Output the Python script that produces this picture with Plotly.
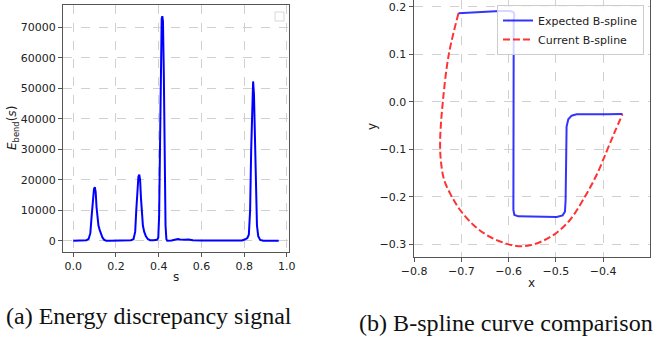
import plotly.graph_objects as go

# ---- data: left panel (energy discrepancy signal)
s_vals = [0.0, 0.05, 0.062, 0.072, 0.08, 0.086, 0.092, 0.097, 0.101, 0.105, 0.109, 0.113,
          0.118, 0.124, 0.13, 0.137, 0.145, 0.155, 0.17, 0.2, 0.22, 0.24, 0.27, 0.282, 0.29,
          0.295, 0.3, 0.305, 0.309, 0.313, 0.317, 0.321, 0.326, 0.332, 0.34, 0.35, 0.36,
          0.375, 0.392, 0.398, 0.402, 0.406, 0.41, 0.414, 0.417, 0.42, 0.424, 0.428, 0.432,
          0.436, 0.44, 0.46, 0.48, 0.49, 0.5, 0.52, 0.54, 0.56, 0.6, 0.7, 0.79, 0.805, 0.815,
          0.822, 0.828, 0.833, 0.838, 0.842, 0.846, 0.85, 0.855, 0.86, 0.866, 0.875, 0.89, 0.962]
e_vals = [0, 0, 200, 600, 2500, 8000, 14000, 17000, 17600, 16000, 11000, 7000,
          5000, 3500, 2200, 1000, 300, 0, 0, 0, 200, 100, 200, 500, 3000,
          10000, 17000, 21000, 21700, 20000, 14000, 8000, 5000, 3000, 1500, 500, 200,
          200, 300, 1000, 8000, 30000, 60000, 73000, 73700, 72000, 55000, 25000, 5000,
          500, 0, 100, 300, 600, 400, 300, 450, 200, 100, 0, 100, 500, 900,
          2000, 10000, 30000, 48000, 52300, 48000, 33000, 15000, 5000, 1500, 300, 0, 0]

# ---- data: right panel (B-spline curves)
exp_x = [-0.7063, -0.6606, -0.6183, -0.5972, -0.5901, -0.5880, -0.5894, -0.5901, -0.5880,
         -0.5796, -0.5479, -0.5197, -0.4986, -0.4859, -0.4810, -0.4796, -0.4789, -0.4775,
         -0.4739, -0.4669, -0.4563, -0.4282, -0.3930, -0.3592]
exp_y = [0.1860, 0.1888, 0.1909, 0.1909, 0.1888, 0.1825, 0.1719, -0.2278, -0.2383,
         -0.2411, -0.2418, -0.2432, -0.2425, -0.2390, -0.2313, -0.2067, -0.1015, -0.0524,
         -0.0370, -0.0293, -0.0265, -0.0272, -0.0265, -0.0258]
cur_x = [-0.7063, -0.7268, -0.7394, -0.7451, -0.7437, -0.7366, -0.7204, -0.7028, -0.6746,
         -0.6465, -0.6113, -0.5831, -0.5549, -0.5268, -0.4986, -0.4704, -0.4387, -0.4141,
         -0.3930, -0.3754, -0.3592]
cur_y = [0.186, 0.0997, 0.0001, -0.0806, -0.1226, -0.1647, -0.1997, -0.2278, -0.2593,
         -0.2804, -0.2965, -0.3035, -0.3021, -0.2923, -0.2755, -0.2488, -0.1997, -0.1541,
         -0.1051, -0.0630, -0.0265]

left_xticks = [0.0, 0.2, 0.4, 0.6, 0.8, 1.0]
left_yticks = [0, 10000, 20000, 30000, 40000, 50000, 60000, 70000]
right_xticks = [-0.8, -0.7, -0.6, -0.5, -0.4]
right_yticks = [-0.3, -0.2, -0.1, 0.0, 0.1, 0.2]

W, H = 653, 341
FONT = "DejaVu Sans"
GRID = "#d0d0d0"
SPINE = "#555555"

fig = go.Figure()
fig.add_trace(go.Scatter(x=s_vals, y=e_vals, mode="lines", line=dict(color="#0000ff", width=2),
                         showlegend=False, xaxis="x", yaxis="y"))
fig.add_trace(go.Scatter(x=exp_x, y=exp_y, mode="lines", name="Expected B-spline",
                         line=dict(color="rgba(0,0,255,0.8)", width=2),
                         xaxis="x2", yaxis="y2"))
fig.add_trace(go.Scatter(x=cur_x, y=cur_y, mode="lines", name="Current B-spline",
                         line=dict(color="rgba(255,0,0,0.8)", width=2, dash="7px,3px", shape="spline"),
                         xaxis="x2", yaxis="y2"))

def px_x(p):
    return p / W

def px_y(p):
    return 1 - p / H

axis_common = dict(showline=True, linecolor=SPINE, linewidth=1, mirror=True,
                   ticks="outside", ticklen=4, tickcolor=SPINE, automargin=False,
                   showgrid=True, gridcolor=GRID, griddash="dash", gridwidth=1,
                   zeroline=False, tickfont=dict(family=FONT, size=11, color="#222"))

fig.update_layout(
    template="none",
    width=W, height=H, margin=dict(l=0, r=0, t=0, b=0, pad=0, autoexpand=False),
    paper_bgcolor="white", plot_bgcolor="white",
    xaxis=dict(domain=[px_x(63), px_x(289)], range=[-0.048, 1.01],
               tickvals=left_xticks, ticktext=[f"{v:.1f}" for v in left_xticks],
               anchor="y", **axis_common),
    yaxis=dict(domain=[px_y(252), px_y(5)], range=[-3685, 77385],
               tickvals=left_yticks, ticktext=[str(v) for v in left_yticks],
               anchor="x", **axis_common),
    xaxis2=dict(domain=[px_x(413.5), px_x(650)], range=[-0.8015, -0.301],
                tickvals=right_xticks, ticktext=[f"{v:.1f}".replace("-", "\u2212") for v in right_xticks],
                anchor="y2", **axis_common),
    yaxis2=dict(domain=[px_y(256.7), 1.0], range=[-0.326, 0.214],
                tickvals=right_yticks, ticktext=[f"{v:.1f}".replace("-", "\u2212") for v in right_yticks],
                anchor="x2", **axis_common),
    legend=dict(x=px_x(497), y=px_y(5), xanchor="left", yanchor="top",
                bgcolor="rgba(255,255,255,0.8)", bordercolor="#cccccc", borderwidth=1,
                font=dict(family=FONT, size=11, color="#222"), itemwidth=30,
                tracegroupgap=0),
    showlegend=True,
)

# empty legend box on left panel
fig.add_shape(type="rect", xref="paper", yref="paper",
              x0=px_x(275), x1=px_x(284), y0=px_y(21), y1=px_y(12),
              line=dict(color="#d8d8d8", width=1), fillcolor="rgba(255,255,255,0.8)")

def label(text, x, y, size, family=FONT, angle=0, xanchor="center", color="#222"):
    return dict(text=text, x=px_x(x), y=px_y(y), xref="paper", yref="paper",
                xanchor=xanchor, yanchor="middle", showarrow=False, textangle=angle,
                font=dict(family=family, size=size, color=color))

ann = [
    label("s", 176, 277, 12),
    label("<i>E</i><sub>bend</sub>(<i>s</i>)", 13, 128, 12, angle=-90),
    label("x", 531.5, 283, 12),
    label("y", 372, 127, 12, angle=-90),
    label("(a) Energy discrepancy signal", 4, 316, 24, family="Liberation Serif", xanchor="left", color="#111"),
    label("(b) B-spline curve comparison", 357, 323, 24.1, family="Liberation Serif", xanchor="left", color="#111"),
]
fig.update_layout(annotations=ann)

fig.write_html("out.html", config={"displayModeBar": False},
               post_script="document.body.style.margin='0px';document.body.style.overflow='hidden';")
